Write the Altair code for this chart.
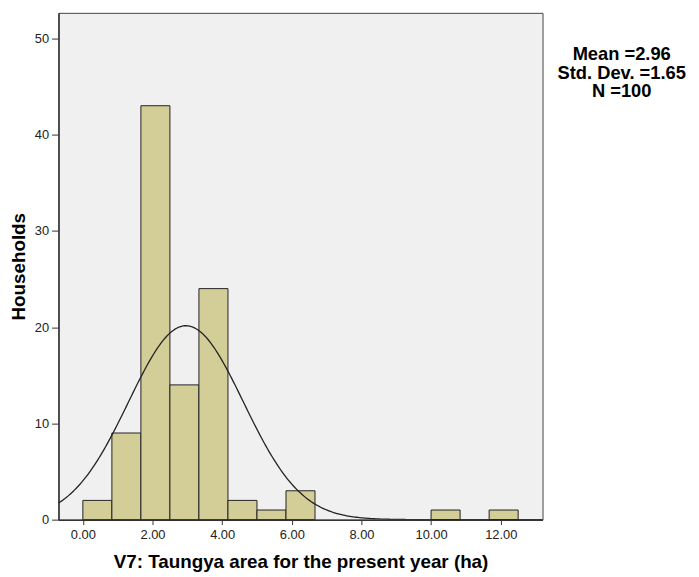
import altair as alt
import pandas as pd
import numpy as np

# Histogram data (15 bins over 0 .. 12.5 ha)
bin_counts = [2, 9, 43, 14, 24, 2, 1, 3, 0, 0, 0, 0, 1, 0, 1]
bin_min = 0.0
bin_max = 12.5
x_ticks = [0, 2, 4, 6, 8, 10, 12]
y_ticks = [0, 10, 20, 30, 40, 50]
stat_mean = 2.96
stat_sd = 1.65
stat_n = 100
stats_lines = ["Mean =2.96", "Std. Dev. =1.65", "N =100"]

FONT = "Liberation Sans"
bw = (bin_max - bin_min) / len(bin_counts)
bars = pd.DataFrame({
    "start": [bin_min + i * bw for i in range(len(bin_counts))],
    "end": [bin_min + (i + 1) * bw for i in range(len(bin_counts))],
    "count": bin_counts,
})
bars = bars[bars["count"] > 0]

# fitted normal curve from the reported mean / sd
xs = np.linspace(-0.7, 13.2, 300)
ys = stat_n * bw * np.exp(-0.5 * ((xs - stat_mean) / stat_sd) ** 2) / (stat_sd * np.sqrt(2 * np.pi))
curve = pd.DataFrame({"x": xs, "y": ys})

xscale = alt.Scale(domain=[-0.7, 13.2], nice=False, zero=False)
yscale = alt.Scale(domain=[0, 52.65], nice=False)

xaxis = alt.Axis(values=x_ticks, format=".2f", title="V7: Taungya area for the present year (ha)",
                 grid=False, labelFont=FONT, labelFontSize=13, labelColor="#222",
                 titleFont=FONT, titleFontSize=19, titleFontWeight="bold", titleColor="#000",
                 tickSize=5, tickColor="#333", domainColor="#333", domainWidth=1.5,
                 labelPadding=4, titlePadding=11)
yaxis = alt.Axis(values=y_ticks, title="Households", grid=False, labelFont=FONT, labelFontSize=13,
                 labelColor="#222", titleFont=FONT, titleFontSize=19, titleFontWeight="bold",
                 titleColor="#000", tickSize=7, tickColor="#333", domainColor="#333", domainWidth=1.5,
                 labelPadding=3, titlePadding=6)

bar_layer = alt.Chart(bars).mark_rect(fill="#D3CE97", stroke="#222", strokeWidth=1).encode(
    x=alt.X("start:Q", scale=xscale, axis=xaxis),
    x2="end:Q",
    y=alt.Y("count:Q", scale=yscale, axis=yaxis),
    y2=alt.datum(0),
)

curve_layer = alt.Chart(curve).mark_line(color="#222", strokeWidth=1.3, clip=True).encode(
    x=alt.X("x:Q", scale=xscale),
    y=alt.Y("y:Q", scale=yscale),
)

stats_df = pd.DataFrame({"label": ["\n".join(stats_lines)]})
text_layer = alt.Chart(stats_df).mark_text(font=FONT, fontSize=18.5, fontWeight="bold", color="#000",
                                           align="center", baseline="alphabetic", lineBreak="\n",
                                           lineHeight=19).encode(
    text="label:N",
    x=alt.value(569),
    y=alt.value(47.5),
)

chart = alt.layer(bar_layer, curve_layer, text_layer).properties(
    width=489, height=512,
    padding={"left": 51, "top": 2, "right": 150, "bottom": 50},
    autosize=alt.AutoSizeParams(type="none"),
    background="white",
).configure_view(fill="#F0F0F0", stroke="#444", strokeWidth=1)

chart.save("out.html", embed_options={"renderer": "svg", "actions": False})
